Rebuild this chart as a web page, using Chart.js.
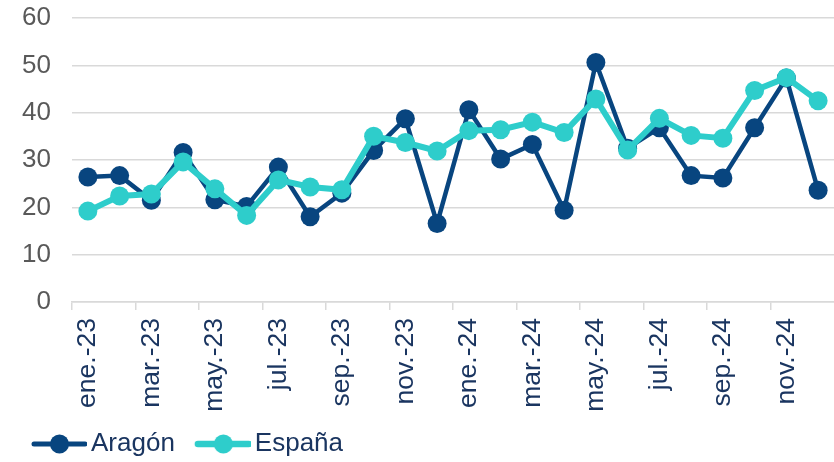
<!DOCTYPE html>
<html>
<head>
<meta charset="utf-8">
<script src="https://cdn.jsdelivr.net/npm/chart.js@4.4.1/dist/chart.umd.min.js"></script>
<style>
html,body{margin:0;padding:0;background:#fff;}
#wrap{width:834px;height:462px;position:relative;}
</style>
</head>
<body>
<div id="wrap"><canvas id="c" width="834" height="462"></canvas></div>
<script>
const categories = ["ene.-23","feb.-23","mar.-23","abr.-23","may.-23","jun.-23","jul.-23","ago.-23","sep.-23","oct.-23","nov.-23","dic.-23",
                    "ene.-24","feb.-24","mar.-24","abr.-24","may.-24","jun.-24","jul.-24","ago.-24","sep.-24","oct.-24","nov.-24","dic.-24"];
const aragon = [26.4,26.7,21.5,31.6,21.6,20.2,28.5,18.0,23.0,32.0,38.7,16.6,
                40.6,30.2,33.3,19.4,50.6,32.5,36.8,26.7,26.2,36.8,47.3,23.6];
const espana = [19.2,22.4,22.8,29.6,23.9,18.3,25.8,24.3,23.7,35.0,33.7,31.9,
                36.2,36.4,38.0,35.8,42.9,32.1,38.8,35.2,34.6,44.7,47.4,42.5];
const yTicks = [0,10,20,30,40,50,60];
const seriesNames = ["Aragón","España"];
const seriesColors = ["#08457f","#2ecdcb"];

// legend icon: line with a circle marker; transparent left margin keeps the label gap tight
function legendIcon(color, lw){
  const c = document.createElement('canvas');
  c.width = 68; c.height = 22;
  const x = c.getContext('2d');
  x.strokeStyle = color; x.lineWidth = lw; x.lineCap = 'round';
  x.beginPath(); x.moveTo(15,11); x.lineTo(66,11); x.stroke();
  x.fillStyle = color;
  x.beginPath(); x.arc(40.5,11,9.5,0,Math.PI*2); x.fill();
  return c;
}
const icons = [legendIcon(seriesColors[0],5), legendIcon(seriesColors[1],6.5)];

const FONT = "'Liberation Sans', Arial, sans-serif";

new Chart(document.getElementById('c'), {
  type: 'line',
  data: {
    labels: categories,
    datasets: [
      {label: seriesNames[0], data: aragon, borderColor: seriesColors[0], backgroundColor: seriesColors[0],
       borderWidth: 4.5, pointRadius: 9.5, pointBorderWidth: 0, pointHoverRadius: 9.5, tension: 0, order: 1, clip: false},
      {label: seriesNames[1], data: espana, borderColor: seriesColors[1], backgroundColor: seriesColors[1],
       borderWidth: 6, pointRadius: 9.5, pointBorderWidth: 0, pointHoverRadius: 9.5, tension: 0, order: 0, clip: false}
    ]
  },
  options: {
    responsive: false,
    animation: false,
    devicePixelRatio: 1,
    layout: {autoPadding: false, padding: {left: 11, right: -3, top: 18, bottom: -5}},
    scales: {
      x: {
        offset: true,
        afterFit: function(axis){ axis.paddingLeft = 0; axis.paddingRight = 0; axis.height = 112; },
        grid: {offset: true, drawOnChartArea: false, drawTicks: true, tickLength: 8, lineWidth: 1.5,
               color: function(ctx){ return ctx.index % 2 === 0 ? '#d9d9d9' : 'rgba(0,0,0,0)'; }},
        border: {display: true, color: '#d9d9d9', width: 1.5},
        ticks: {
          autoSkip: false, maxRotation: 90, minRotation: 90, padding: 8,
          color: '#1a3560', font: {family: FONT, size: 26.5},
          callback: function(v, i){ return i % 2 === 0 ? categories[i] : ''; }
        }
      },
      y: {
        min: 0, max: 60,
        afterBuildTicks: function(axis){ axis.ticks = yTicks.map(v => ({value: v})); },
        afterFit: function(axis){ axis.width = 61; axis.paddingTop = 0; axis.paddingBottom = 0; },
        grid: {drawTicks: false, color: '#d9d9d9', lineWidth: 1.5},
        border: {display: false},
        ticks: {padding: 21, color: '#595959', font: {family: FONT, size: 26}}
      }
    },
    plugins: {
      tooltip: {enabled: false},
      legend: {
        position: 'bottom', align: 'start',
        labels: {
          usePointStyle: true, pointStyleWidth: 50, padding: 17,
          color: '#1a3560', font: {family: FONT, size: 26},
          generateLabels: function(chart){
            return seriesNames.map((n,i) => ({text: n, pointStyle: icons[i], fillStyle: seriesColors[i],
              strokeStyle: seriesColors[i], lineWidth: 0, hidden: false, datasetIndex: i, fontColor: '#1a3560'}));
          }
        }
      }
    }
  }
});
</script>
</body>
</html>
